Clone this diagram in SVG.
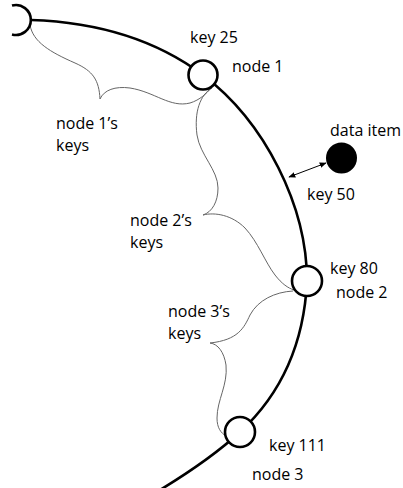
<svg xmlns="http://www.w3.org/2000/svg" width="403" height="488" viewBox="0 0 403 488">
<defs>
<style>
.ring{fill:none;stroke:#000;stroke-width:2.6}
.node{fill:#fff;stroke:#000;stroke-width:2.6}
.brace{fill:none;stroke:#666;stroke-width:1}
.arrow{fill:none;stroke:#000;stroke-width:1}
text{font-family:"Open Sans","Liberation Sans",sans-serif;font-size:16px;fill:#000}
</style>
<marker id="ah" viewBox="0 0 10 10" refX="9" refY="5" markerWidth="7" markerHeight="7" orient="auto-start-reverse" markerUnits="userSpaceOnUse">
<path d="M0,1 L10,5 L0,9 Z" fill="#000"/>
</marker>
</defs>
<rect width="403" height="488" fill="#fff"/>
<g id="connectors">
<path class="ring" d="M31,20 C91,22 153,37.5 203,75 C265,122 307,206 307,281 C304,345 280,395 240,432 C220,450.5 190,472 155,493"/>
<path class="brace" d="M30,25 C33,42 50,52 75,63 C93,71 99,80 100,99 C104,90 115,86 130,88 C155,92 170,108 190,103 C200,100 207,93 211,88"/>
<path class="brace" d="M212,88 C200,95 194,112 197,135 C200,155 218,170 218,188 C218,202 212,212 203,215 C215,212 232,215 245,228 C258,242 265,262 275,275 C282,284 288,288 294,290"/>
<path class="brace" d="M293,291 C275,292 258,300 250,315 C244,328 238,340 210,343 C218,344 224,352 226,365 C228,385 217,400 217,418 C217,428 221,433 226,436"/>
<path class="arrow" d="M289,177 L326,163" marker-start="url(#ah)" marker-end="url(#ah)"/>
</g>
<g id="node0"><path class="ring" d="M12,5.5 A15,15 0 1 1 12,34.5"/></g>
<g id="node1"><circle class="node" cx="203" cy="75" r="14.5"/><text x="190" y="43">key 25</text><text x="232" y="72">node 1</text></g>
<g id="node2"><circle class="node" cx="307" cy="281" r="15"/><text x="330" y="274">key 80</text><text x="336" y="298">node 2</text></g>
<g id="node3"><circle class="node" cx="240" cy="432" r="15"/><text x="269" y="451">key 111</text><text x="252" y="480">node 3</text></g>
<g id="data"><circle cx="341.5" cy="158" r="15.5" fill="#000"/><text x="330" y="136">data item</text><text x="307" y="200">key 50</text></g>
<g id="labels">
<text x="56" y="129">node 1’s</text><text x="56" y="151">keys</text>
<text x="130" y="226">node 2’s</text><text x="130" y="248">keys</text>
<text x="168" y="317">node 3’s</text><text x="168" y="339">keys</text>
</g>
</svg>
